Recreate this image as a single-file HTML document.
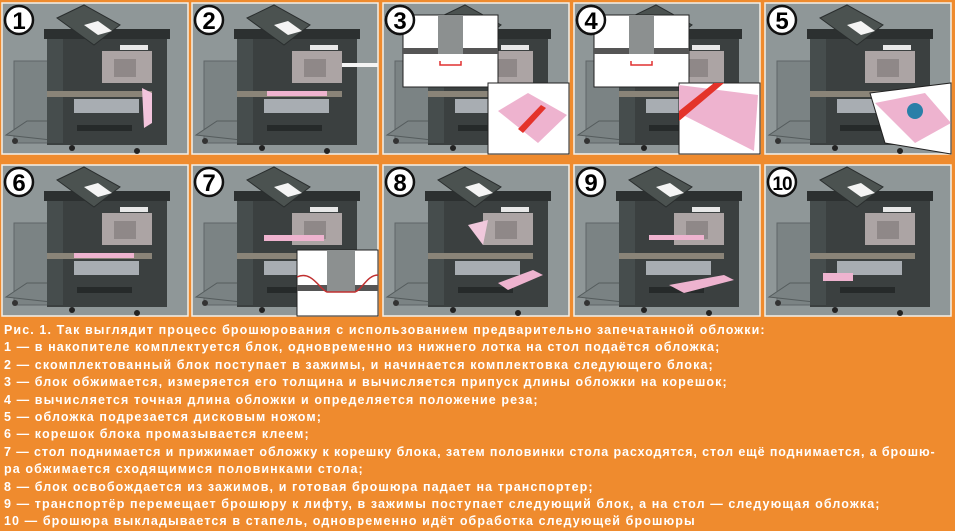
<!DOCTYPE html>
<html><head><meta charset="utf-8"><style>
body{margin:0;width:955px;height:530px;background:#ef8b2e;overflow:hidden;position:relative;font-family:"Liberation Sans",sans-serif}
svg{position:absolute;left:0;top:0}
.t{position:absolute;left:4px;top:322px;color:#fff;font-weight:bold;font-size:12.5px;letter-spacing:1.1px;line-height:17.4px;white-space:nowrap}
</style></head><body>
<svg width="955" height="320" viewBox="0 0 955 320">
<defs>
<g id="m">
<rect x="0" y="0" width="186" height="151" fill="#8f9798" stroke="#f4f0e8" stroke-width="1.5"/>
<rect x="12" y="58" width="48" height="82" fill="#7b8384" stroke="#5f6667" stroke-width="1"/>
<polygon points="4,132 25,118 75,118 58,138" fill="#7a8283" stroke="#555c5d"/>
<rect x="45" y="30" width="120" height="112" fill="#3b4040"/>
<rect x="42" y="26" width="126" height="10" fill="#2c3030"/>
<rect x="45" y="36" width="16" height="104" fill="#4a5050" opacity="0.8"/>
<polygon points="55,15 82,2 118,22 92,42" fill="#4b5250" stroke="#2a2e2e"/>
<polygon points="82,22 96,18 110,28 96,32" fill="#f4f4f4"/>
<rect x="100" y="48" width="50" height="32" fill="#aca4a4"/>
<rect x="112" y="56" width="22" height="18" fill="#8f8888"/>
<rect x="118" y="42" width="28" height="5" fill="#e8e8e8"/>
<rect x="45" y="88" width="105" height="6" fill="#8a8478"/>
<rect x="72" y="96" width="65" height="14" fill="#a8adb2"/>
<rect x="75" y="122" width="55" height="6" fill="#262a2a"/>
<circle cx="70" cy="145" r="3" fill="#222"/><circle cx="135" cy="148" r="3" fill="#222"/><circle cx="13" cy="138" r="3" fill="#333"/>
<circle cx="17" cy="17" r="14" fill="#fff" stroke="#111" stroke-width="2.5"/>
</g>
<g id="i1"><rect x="20" y="12" width="95" height="72" fill="#fff" stroke="#222"/>
<rect x="20" y="45" width="95" height="6" fill="#555"/><rect x="55" y="12" width="25" height="39" fill="#8c9090"/>
<polyline points="57,58 57,62 78,62 78,58" fill="none" stroke="#e03030" stroke-width="1.5"/></g>
</defs>
<g transform="translate(2,3)"><use href="#m"/><path d="M140,85 l10,5 v30 l-8,5 z" fill="#f2c4dc"/><text x="17" y="26" font-size="24" font-weight="bold" text-anchor="middle" font-family="Liberation Sans">1</text></g>
<g transform="translate(192,3)"><use href="#m"/><rect x="75" y="88" width="60" height="5" fill="#eeb3cf"/><rect x="150" y="60" width="36" height="4" fill="#f4f4f4"/><text x="17" y="26" font-size="24" font-weight="bold" text-anchor="middle" font-family="Liberation Sans">2</text></g>
<g transform="translate(383,3)"><use href="#m"/><use href="#i1"/><rect x="105" y="80" width="81" height="71" fill="#fff" stroke="#222"/><polygon points="115,108 145,90 184,112 155,140" fill="#eeb3cf"/><polygon points="135,126 158,102 163,105 140,130" fill="#e4332a"/><circle cx="17" cy="17" r="14" fill="#fff" stroke="#111" stroke-width="2.5"/><text x="17" y="26" font-size="24" font-weight="bold" text-anchor="middle" font-family="Liberation Sans">3</text></g>
<g transform="translate(574,3)"><use href="#m"/><use href="#i1"/><rect x="105" y="80" width="81" height="71" fill="#fff" stroke="#222"/><polygon points="105,82 184,92 180,148 105,110" fill="#eeb3cf"/><polygon points="105,108 140,80 150,80 105,118" fill="#e4332a"/><circle cx="17" cy="17" r="14" fill="#fff" stroke="#111" stroke-width="2.5"/><text x="17" y="26" font-size="24" font-weight="bold" text-anchor="middle" font-family="Liberation Sans">4</text></g>
<g transform="translate(765,3)"><use href="#m"/><polygon points="105,90 186,80 186,151 120,140" fill="#fff" stroke="#222"/><polygon points="110,100 160,90 186,120 150,140" fill="#eeb3cf"/><circle cx="150" cy="108" r="8" fill="#2a7fa8"/><text x="17" y="26" font-size="24" font-weight="bold" text-anchor="middle" font-family="Liberation Sans">5</text></g>
<g transform="translate(2,165)"><use href="#m"/><rect x="72" y="88" width="60" height="5" fill="#eeb3cf"/><text x="17" y="26" font-size="24" font-weight="bold" text-anchor="middle" font-family="Liberation Sans">6</text></g>
<g transform="translate(192,165)"><use href="#m"/><rect x="72" y="70" width="60" height="6" fill="#eeb3cf"/><rect x="105" y="85" width="81" height="66" fill="#fff" stroke="#222"/><rect x="105" y="120" width="81" height="6" fill="#555"/><rect x="135" y="85" width="28" height="42" fill="#8c9090"/><path d="M105,112 C120,105 128,125 135,127 H163 C170,125 175,110 186,110" fill="none" stroke="#c03030" stroke-width="1.5"/><text x="17" y="26" font-size="24" font-weight="bold" text-anchor="middle" font-family="Liberation Sans">7</text></g>
<g transform="translate(383,165)"><use href="#m"/><polygon points="85,60 105,55 100,80" fill="#f0c8dc"/><polygon points="115,118 150,105 160,110 125,125" fill="#eeb3cf"/><text x="17" y="26" font-size="24" font-weight="bold" text-anchor="middle" font-family="Liberation Sans">8</text></g>
<g transform="translate(574,165)"><use href="#m"/><rect x="75" y="70" width="55" height="5" fill="#eeb3cf"/><polygon points="95,120 150,110 160,115 110,128" fill="#eeb3cf"/><text x="17" y="26" font-size="24" font-weight="bold" text-anchor="middle" font-family="Liberation Sans">9</text></g>
<g transform="translate(765,165)"><use href="#m"/><rect x="58" y="108" width="30" height="8" fill="#eeb3cf"/><text x="17" y="25" font-size="19" font-weight="bold" text-anchor="middle" font-family="Liberation Sans" letter-spacing="-1">10</text></g>
</svg>
<div class="t">Рис. 1. Так выглядит процесс брошюрования с использованием предварительно запечатанной обложки:<br>
1 — в накопителе комплектуется блок, одновременно из нижнего лотка на стол подаётся обложка;<br>
2 — скомплектованный блок поступает в зажимы, и начинается комплектовка следующего блока;<br>
3 — блок обжимается, измеряется его толщина и вычисляется припуск длины обложки на корешок;<br>
4 — вычисляется точная длина обложки и определяется положение реза;<br>
5 — обложка подрезается дисковым ножом;<br>
6 — корешок блока промазывается клеем;<br>
<span style="letter-spacing:0.9px">7 — стол поднимается и прижимает обложку к корешку блока, затем половинки стола расходятся, стол ещё поднимается, а брошю-</span><br>
ра обжимается сходящимися половинками стола;<br>
8 — блок освобождается из зажимов, и готовая брошюра падает на транспортер;<br>
9 — транспортёр перемещает брошюру к лифту, в зажимы поступает следующий блок, а на стол — следующая обложка;<br>
10 — брошюра выкладывается в стапель, одновременно идёт обработка следующей брошюры</div>
</body></html>
